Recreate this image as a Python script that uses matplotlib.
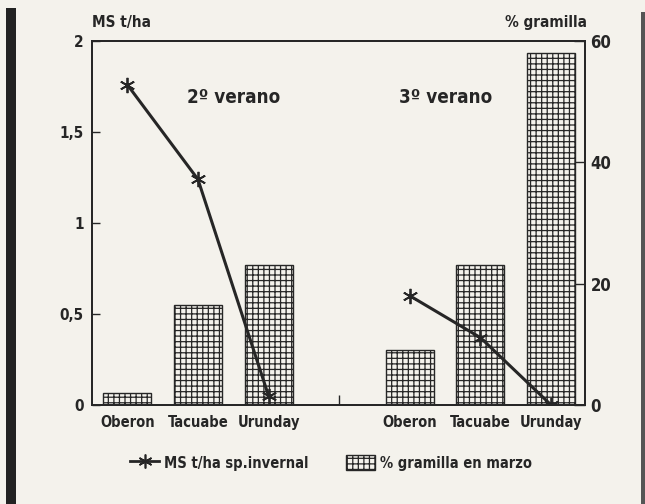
import matplotlib
matplotlib.use('Agg')
import matplotlib.pyplot as plt
from matplotlib import font_manager
from matplotlib.patches import Rectangle, Patch
from matplotlib.lines import Line2D

# ---- data ----
varieties = ['Oberon', 'Tacuabe', 'Urunday']
group_names = ['2º verano', '3º verano']
ms_2 = [1.76, 1.24, 0.05]          # MS t/ha sp.invernal, 2º verano
ms_3 = [0.60, 0.37, 0.0]           # MS t/ha sp.invernal, 3º verano
gram_2 = [2, 16.5, 23]             # % gramilla en marzo, 2º verano
gram_3 = [9, 23, 58]               # % gramilla en marzo, 3º verano
left_ticks = [0, 0.5, 1, 1.5, 2]
left_labels = ['0', '0,5', '1', '1,5', '2']
right_ticks = [0, 20, 40, 60]
right_labels = ['0', '20', '40', '60']
line_label = 'MS t/ha sp.invernal'
bar_label = '% gramilla en marzo'

# pick a narrow font if one is installed
fonts = font_manager.fontManager.ttflist
names = {f.name for f in fonts}
stretch = 'normal'
if 'Liberation Sans Narrow' in names:
    family = ['Liberation Sans Narrow', 'DejaVu Sans']
elif any(f.name == 'DejaVu Sans' and str(f.stretch) in ('condensed', 'semi-condensed') for f in fonts):
    family = ['DejaVu Sans']
    stretch = 'condensed'
else:
    family = ['Liberation Sans', 'DejaVu Sans']

plt.rcParams['font.family'] = family
plt.rcParams['font.stretch'] = stretch
plt.rcParams['font.weight'] = 'bold'
plt.rcParams['hatch.linewidth'] = 0.9

bg = '#f4f2ec'
ink = '#262626'

fig = plt.figure(figsize=(6.45, 5.04), dpi=100, facecolor=bg)
ax = fig.add_axes([92/645, 1-405/504, (585-92)/645, (405-41)/504])
ax.set_facecolor(bg)
ax2 = ax.twinx()

n = len(varieties)
pos1 = list(range(n))
pos2 = [p + n + 1 for p in range(n)]

# bars (right scale)
ax.bar(pos1, gram_2, width=0.68, facecolor=bg, edgecolor=ink, hatch='+++', linewidth=1.0, zorder=2)
ax.bar(pos2, gram_3, width=0.68, facecolor=bg, edgecolor=ink, hatch='+++', linewidth=1.0, zorder=2)
ax.set_ylim(0, 60)
ax.set_yticks(right_ticks)
ax.set_yticklabels(right_labels)
ax.yaxis.tick_right()
ax.tick_params(axis='y', direction='in', length=8, width=1.0, colors=ink, labelsize=12, pad=4)

# lines (left scale)
mk = dict(color=ink, lw=2.2, marker=(6, 2, 0), ms=11, mew=1.3)
ax2.plot(pos1, ms_2, **mk, zorder=3)
ax2.plot(pos2, ms_3, **mk, zorder=3)
ax2.set_ylim(0, 2)
ax2.set_yticks(left_ticks)
ax2.set_yticklabels(left_labels)
ax2.yaxis.tick_left()
ax2.tick_params(axis='y', direction='in', length=6, width=1.0, colors=ink, labelsize=11, pad=6)

ax.set_xlim(-0.5, pos2[-1] + 0.48)
ax.set_xticks(pos1 + pos2)
ax.set_xticklabels(varieties + varieties)
ax.tick_params(axis='x', which='major', length=0, labelsize=10.5, colors=ink, pad=7)
ax.set_xticks([n], minor=True)
ax.tick_params(axis='x', which='minor', direction='in', length=7, width=1.0, colors=ink)

for a in (ax, ax2):
    for s in a.spines.values():
        s.set_color(ink)
        s.set_linewidth(1.3)

# group labels
label_x = [1.5, 4.5]
for x, name in zip(label_x, group_names):
    ax2.text(x, 1.69, name, ha='center', va='center', fontsize=13.5, color=ink)

# axis titles
ax.text(0.0, 1.05, 'MS t/ha', transform=ax.transAxes, ha='left', va='center', fontsize=11, color=ink)
ax.text(1.004, 1.05, '% gramilla', transform=ax.transAxes, ha='right', va='center', fontsize=11, color=ink)

# legend
handles = [Line2D([0], [0], color=ink, lw=2.0, marker=(6, 2, 0), ms=10, mew=1.2),
           Patch(facecolor=bg, edgecolor=ink, hatch='+++', linewidth=1.0)]
fig.legend(handles, [line_label, bar_label], loc='center', bbox_to_anchor=(0.513, 1-463/504),
           ncol=2, frameon=False, fontsize=10.5, handlelength=2.0, handleheight=1.2,
           columnspacing=2.6, handletextpad=0.3, labelcolor=ink)

# scan border bars
fig.patches.append(Rectangle((6/645, 0), 10/645, (504-8)/504, transform=fig.transFigure,
                             facecolor='#222222', edgecolor='none'))
fig.patches.append(Rectangle((641/645, 0), 4/645, (504-12)/504, transform=fig.transFigure,
                             facecolor='#555555', edgecolor='none'))

fig.savefig('out.png', dpi=100, facecolor=bg)
